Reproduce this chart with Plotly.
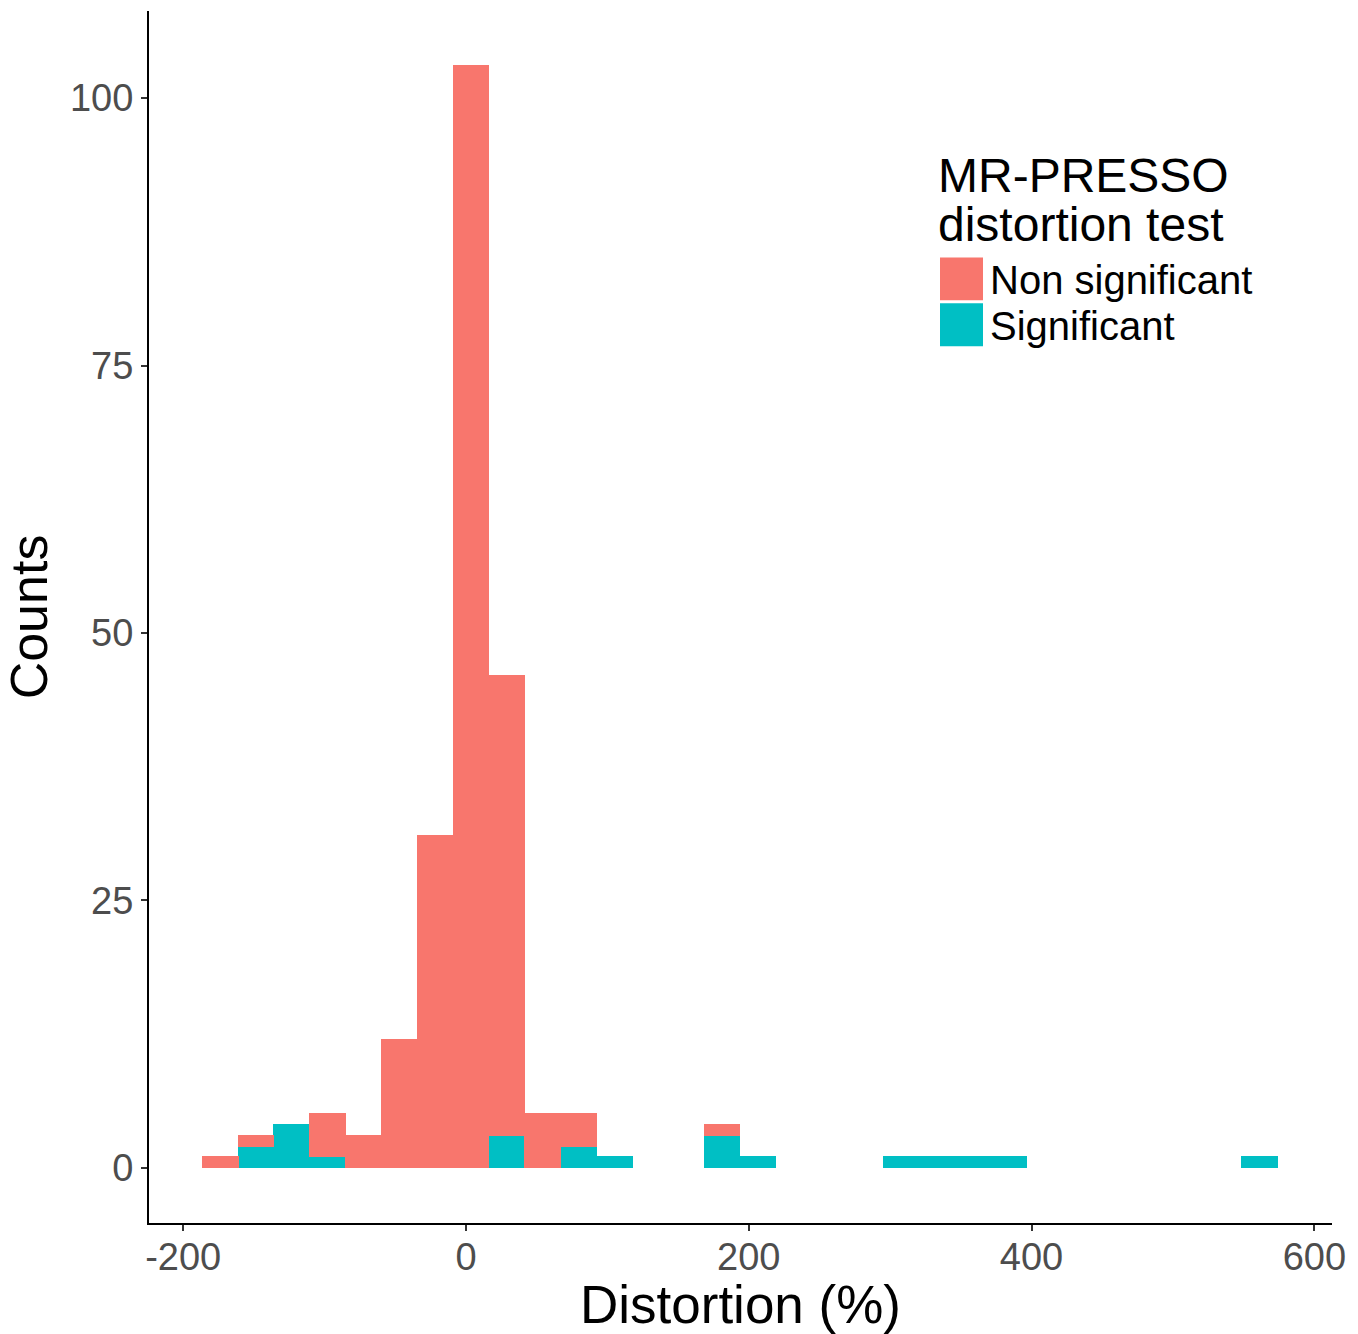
import plotly.graph_objects as go

# ---- data (30 bins) ----
bin_centers = [-173.5, -148.2, -122.8, -97.5, -72.1, -46.8, -21.4, 3.9, 29.3, 54.6,
               80.0, 105.3, 130.7, 156.0, 181.4, 206.7, 232.1, 257.4, 282.8, 308.1,
               333.5, 358.8, 384.2, 409.5, 434.9, 460.2, 485.6, 510.9, 536.3, 561.6]
bin_width = 25.34
significant = [0, 2, 4, 1, 0, 0, 0, 0, 3, 0,
               2, 1, 0, 0, 3, 1, 0, 0, 0, 1,
               1, 1, 1, 0, 0, 0, 0, 0, 0, 1]
non_significant = [1, 1, 0, 4, 3, 12, 31, 103, 43, 5,
                   3, 0, 0, 0, 1, 0, 0, 0, 0, 0,
                   0, 0, 0, 0, 0, 0, 0, 0, 0, 0]
group_labels = ["Non significant", "Significant"]
group_colors = ["#F8766D", "#00BFC4"]
legend_title = ["MR-PRESSO", "distortion test"]
x_ticks = [-200, 0, 200, 400, 600]
y_ticks = [0, 25, 50, 75, 100]
x_title = "Distortion (%)"
y_title = "Counts"

FONT = "Liberation Sans, Arial, Helvetica, sans-serif"
W, H = 1358, 1334
L, R, T, B = 149, 26, 11, 108


def px_x(px):
    return (px - L) / (W - L - R)


def px_y(py):
    return 1 - (py - T) / (H - T - B)


def nz(vals):
    return [v if v else None for v in vals]


fig = go.Figure()
# stacked: Significant at bottom, Non significant on top (ggplot order)
fig.add_trace(go.Bar(x=bin_centers, y=nz(significant), width=[bin_width] * len(bin_centers),
                     name=group_labels[1],
                     marker=dict(color=group_colors[1], line=dict(width=1, color=group_colors[1])),
                     showlegend=False))
fig.add_trace(go.Bar(x=bin_centers, y=nz(non_significant), width=[bin_width] * len(bin_centers),
                     name=group_labels[0],
                     marker=dict(color=group_colors[0], line=dict(width=1, color=group_colors[0])),
                     showlegend=False))

# custom ggplot-like legend (large keys)
shapes = []
annotations = []
key_tops = [258, 304]
for i, (lab, col) in enumerate(zip(group_labels, group_colors)):
    top = key_tops[i]
    shapes.append(dict(type="rect", xref="paper", yref="paper",
                       x0=px_x(940), x1=px_x(983), y0=px_y(top + 43), y1=px_y(top),
                       fillcolor=col, line=dict(width=0)))
    annotations.append(dict(text=lab, xref="paper", yref="paper",
                            x=px_x(988), y=px_y(top + 23), xanchor="left", yanchor="middle",
                            showarrow=False, font=dict(family=FONT, size=40, color="black")))
for j, (line, yc) in enumerate(zip(legend_title, [176, 225])):
    annotations.append(dict(text=line, xref="paper", yref="paper",
                            x=px_x(936), y=px_y(yc), xanchor="left", yanchor="middle",
                            showarrow=False, font=dict(family=FONT, size=48, color="black")))

fig.update_layout(
    width=W, height=H,
    margin=dict(l=L, r=R, t=T, b=B),
    barmode="stack", bargap=0,
    plot_bgcolor="white", paper_bgcolor="white",
    font=dict(family=FONT),
    shapes=shapes, annotations=annotations,
    showlegend=False,
)
fig.update_xaxes(
    range=[-224.2, 612.5], tickvals=x_ticks, ticktext=[str(v) for v in x_ticks],
    showgrid=False, zeroline=False,
    showline=True, linecolor="black", linewidth=2,
    ticks="outside", ticklen=6, tickwidth=2, tickcolor="#333333",
    ticklabelstandoff=-7,
    tickfont=dict(family=FONT, size=38, color="#4D4D4D"),
    title=dict(text=x_title, font=dict(family=FONT, size=53, color="black"), standoff=8),
)
fig.update_yaxes(
    range=[-5.15, 108.15], tickvals=y_ticks, ticktext=[str(v) for v in y_ticks],
    showgrid=False, zeroline=False,
    showline=True, linecolor="black", linewidth=2,
    ticks="outside", ticklen=6, tickwidth=2, tickcolor="#333333",
    tickfont=dict(family=FONT, size=38, color="#4D4D4D"),
    title=dict(text=y_title, font=dict(family=FONT, size=52, color="black"), standoff=8),
)

fig.write_html("out.html", config={"displayModeBar": False},
               post_script="document.body.style.margin='0px';")
